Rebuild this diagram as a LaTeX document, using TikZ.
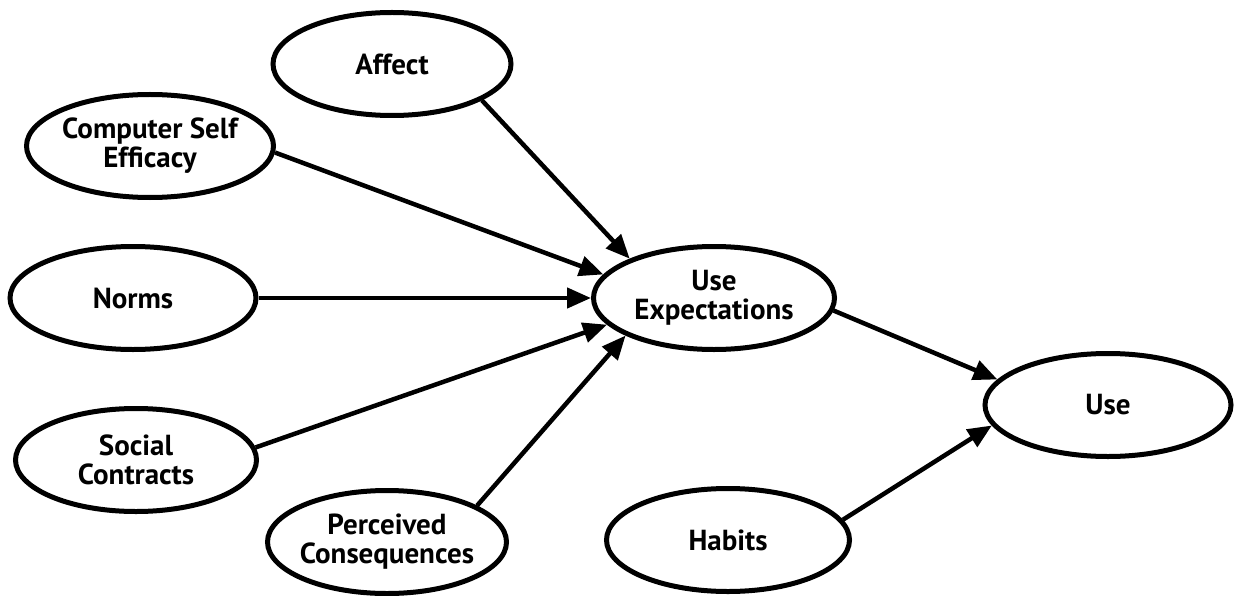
\documentclass[tikz,border=0pt]{standalone}
\usepackage{fontspec}
\setmainfont{PT Sans}
\usetikzlibrary{shapes.geometric,arrows.meta}
\begin{document}
\begin{tikzpicture}[x=1pt,y=-1pt,
  ell/.style={draw, ellipse, line width=5pt, minimum width=#1, minimum height=103pt, inner sep=0pt},
  ell/.default=240pt,
  lab/.style={font=\fontsize{29}{29}\selectfont\bfseries, align=center, text=black},
  conn/.style={line width=4.5pt, -{Triangle[length=24pt,width=20pt]}}
]
\fill[white] (0,0) rectangle (1238,596);
\useasboundingbox (0,0) rectangle (1238,596);

\node[ell=238pt, label={[lab,name=affectt]center:Affect}] (affect) at (392,64) {};
\node[ell=247pt, label={[lab,name=csett]center:Computer Self\\Efficacy}] (cse) at (150,146) {};
\node[ell=246pt, label={[lab,name=normst]center:Norms}] (norms) at (133,298) {};
\node[ell=241pt, label={[lab,name=socialt]center:Social\\Contracts}] (social) at (136,460) {};
\node[ell=239pt, label={[lab,name=perct]center:Perceived\\Consequences}] (perc) at (387,542) {};
\node[ell=241pt, label={[lab,name=uet]center:Use\\Expectations}] (ue) at (714,298) {};
\node[ell=243pt, label={[lab,name=habitst]center:Habits}] (habits) at (728,540) {};
\node[ell=246pt, label={[lab,name=uset]center:Use}] (use) at (1108,405) {};

\draw[conn] (affect.338) -- (ue.155);
\draw[conn] (cse.357) -- (ue.168);
\draw[conn] (norms.east) -- (ue.west);
\draw[conn] (social.6) -- (ue.194);
\draw[conn] (perc.22) -- (ue.203);
\draw[conn] (ue.354) -- (use.167);
\draw[conn] (habits.10) -- (use.190);
\end{tikzpicture}
\end{document}
